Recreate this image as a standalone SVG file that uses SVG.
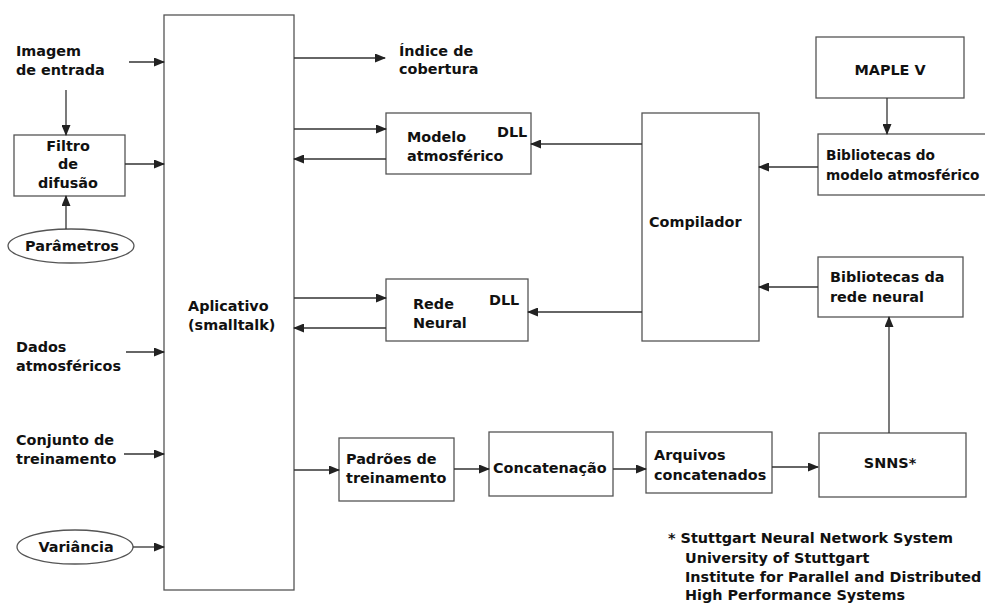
<svg xmlns="http://www.w3.org/2000/svg" width="985" height="605" viewBox="0 0 985 605">
<style>
text{font-family:"DejaVu Sans","Liberation Sans",sans-serif;font-weight:bold;font-size:14.4px;fill:#111}
.box{fill:#fff;stroke:#555;stroke-width:1.3}
.ln{fill:none;stroke:#333;stroke-width:1.3;marker-end:url(#ah)}
.mid{text-anchor:middle}
.tight{font-size:13.7px}
</style>
<defs>
<marker id="ah" markerWidth="11" markerHeight="9" refX="10" refY="4.5" orient="auto" markerUnits="userSpaceOnUse">
<path d="M0,0 L11,4.5 L0,9 Z" fill="#222"/>
</marker>
</defs>
<rect width="985" height="605" fill="#fff"/>

<g id="aplicativo"><rect class="box" x="164" y="15" width="130" height="575"/><text x="188" y="311">Aplicativo</text><text x="188" y="330">(smalltalk)</text></g>
<g id="imagem"><text x="16" y="56">Imagem</text><text x="16" y="75">de entrada</text></g>
<g id="filtro"><rect class="box" x="14" y="135" width="111" height="61"/><text class="mid" x="68" y="151">Filtro</text><text class="mid" x="68" y="169">de</text><text class="mid" x="68" y="188">difusão</text></g>
<g id="parametros"><ellipse class="box" cx="71" cy="246" rx="63" ry="17"/><text class="mid" x="72" y="251">Parâmetros</text></g>
<g id="dados"><text x="16" y="352">Dados</text><text x="16" y="371">atmosféricos</text></g>
<g id="conjunto"><text x="16" y="445">Conjunto de</text><text x="16" y="464">treinamento</text></g>
<g id="variancia"><ellipse class="box" cx="75" cy="547" rx="58" ry="17"/><text class="mid" x="76" y="552">Variância</text></g>
<g id="indice"><text x="399" y="56">Índice de</text><text x="399" y="74">cobertura</text></g>
<g id="modelo"><rect class="box" x="386" y="113" width="145" height="61"/><text x="407" y="142">Modelo</text><text x="407" y="161">atmosférico</text><text x="497" y="137">DLL</text></g>
<g id="rede"><rect class="box" x="386" y="279" width="142" height="62"/><text x="413" y="309">Rede</text><text x="413" y="328">Neural</text><text x="489" y="305">DLL</text></g>
<g id="compilador"><rect class="box" x="642" y="113" width="117" height="228"/><text x="649" y="227">Compilador</text></g>
<g id="maple"><rect class="box" x="816" y="37" width="148" height="61"/><text class="mid" x="890" y="75">MAPLE V</text></g>
<g id="bibmodelo"><rect class="box" x="818" y="134" width="180" height="61"/><text x="826" y="160" class="tight">Bibliotecas do</text><text x="826" y="180" class="tight">modelo atmosférico</text></g>
<g id="bibrede"><rect class="box" x="818" y="257" width="145" height="60"/><text x="830" y="282">Bibliotecas da</text><text x="830" y="302">rede neural</text></g>
<g id="padroes"><rect class="box" x="339" y="438" width="115" height="63"/><text x="346" y="464">Padrões de</text><text x="346" y="483">treinamento</text></g>
<g id="concatenacao"><rect class="box" x="489" y="432" width="124" height="64"/><text x="493" y="473">Concatenação</text></g>
<g id="arquivos"><rect class="box" x="646" y="432" width="126" height="61"/><text x="654" y="460">Arquivos</text><text x="654" y="480">concatenados</text></g>
<g id="snns"><rect class="box" x="819" y="433" width="147" height="64"/><text class="mid" x="890" y="468">SNNS*</text></g>
<g id="nota"><text x="668" y="543">* Stuttgart Neural Network System</text><text x="685" y="563">University of Stuttgart</text><text x="685" y="582">Institute for Parallel and Distributed</text><text x="685" y="600">High Performance Systems</text></g>

<g id="connectors">
<path class="ln" d="M129 62 H164"/>
<path class="ln" d="M66 90 V135"/>
<path class="ln" d="M66 229 V196"/>
<path class="ln" d="M125 164 H164"/>
<path class="ln" d="M294 58 H385"/>
<path class="ln" d="M294 129 H386"/>
<path class="ln" d="M386 159 H294"/>
<path class="ln" d="M642 144 H531"/>
<path class="ln" d="M887 98 V134"/>
<path class="ln" d="M818 167 H759"/>
<path class="ln" d="M818 287 H759"/>
<path class="ln" d="M294 298 H386"/>
<path class="ln" d="M386 328 H294"/>
<path class="ln" d="M642 312 H528"/>
<path class="ln" d="M126 352 H164"/>
<path class="ln" d="M124 454 H164"/>
<path class="ln" d="M133 547 H164"/>
<path class="ln" d="M294 470 H339"/>
<path class="ln" d="M454 469 H489"/>
<path class="ln" d="M613 469 H646"/>
<path class="ln" d="M772 467 H818"/>
<path class="ln" d="M889 433 V317"/>
</g>
</svg>
